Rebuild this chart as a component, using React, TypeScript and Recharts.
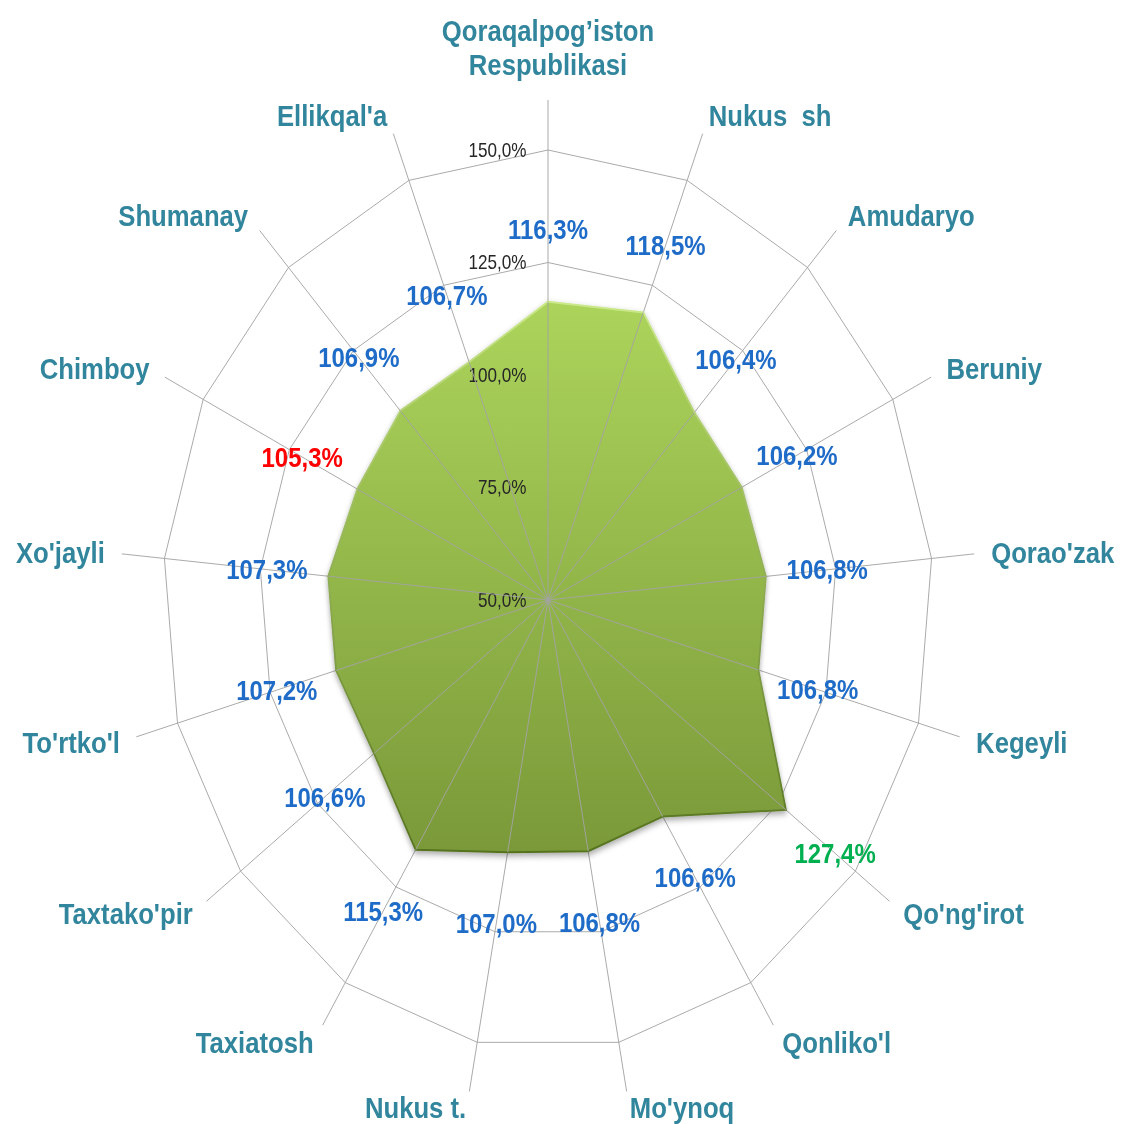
import React from 'react';
import { RadarChart, PolarGrid, PolarAngleAxis, PolarRadiusAxis, Radar } from 'recharts';

// districts, clockwise from the top
const districts = [
  'Qoraqalpog’iston\nRespublikasi',
  'Nukus  sh',
  'Amudaryo',
  'Beruniy',
  "Qorao'zak",
  'Kegeyli',
  "Qo'ng'irot",
  "Qonliko'l",
  "Mo'ynoq",
  'Nukus t.',
  'Taxiatosh',
  "Taxtako'pir",
  "To'rtko'l",
  "Xo'jayli",
  'Chimboy',
  'Shumanay',
  "Ellikqal'a",
];

const growthPct = [116.3, 118.5, 106.4, 106.2, 106.8, 106.8, 127.4, 106.6, 106.8, 107.0, 115.3, 106.6, 107.2, 107.3, 105.3, 106.9, 106.7];

const radiusTicks = [50, 75, 100, 125, 150];

// the source picture is squeezed horizontally, so the whole chart is drawn round and then scaled in x
const SQUEEZE = 0.856;
const CHART_W = Math.round(1122 / SQUEEZE);
const CHART_H = 1124;
const CX = 548 / SQUEEZE;
const CY = 600;
const RING_R = 450; // radius of the 150% ring
const SPOKE_R = 500; // spokes run a bit past the outer ring

const minTick = radiusTicks[0];
const maxTick = radiusTicks[radiusTicks.length - 1];
const domainMax = minTick + ((maxTick - minTick) * SPOKE_R) / RING_R;
const ringRadii = radiusTicks.slice(1).map(t => ((t - minTick) / (maxTick - minTick)) * RING_R);

const data = districts.map((name, i) => ({ name, value: growthPct[i] }));
const maxVal = Math.max(...growthPct);
const minVal = Math.min(...growthPct);

const FONT = '"Liberation Sans", Arial, sans-serif';
const GRID = '#a3a3a3';

const fmt = (v: number) => v.toFixed(1).replace('.', ',') + '%';

const labelColor = (v: number) => {
  if (v === maxVal) return '#00b050';
  if (v === minVal) return '#ff0000';
  return '#1f6cc8';
};

const CategoryTick = (props: any) => {
  const { payload } = props;
  const ox = typeof props.cx === 'number' ? props.cx : CX;
  const oy = typeof props.cy === 'number' ? props.cy : CY;
  const ang = (payload.coordinate * Math.PI) / 180;
  const r = SPOKE_R + 20;
  const x = ox + r * Math.cos(ang);
  let y = oy - r * Math.sin(ang);
  const c = Math.cos(ang);
  const anchor = Math.abs(c) < 0.05 ? 'middle' : c > 0 ? 'start' : 'end';
  const lines = String(payload.value).split('\n');
  const lineH = 34;
  if (Math.sin(ang) < -0.9) y -= 4; // bottom names sit a little higher
  let y0 = y - ((lines.length - 1) * lineH) / 2;
  if (anchor === 'middle' && Math.sin(ang) > 0) y0 = y - 16 - (lines.length - 1) * lineH;
  return (
    <text
      x={x}
      y={y0}
      textAnchor={anchor}
      dominantBaseline="central"
      fontFamily={FONT}
      fontSize={30}
      fontWeight="bold"
      fill="#31859c"
      style={{ whiteSpace: 'pre' }}
    >
      {lines.map((l, k) => (
        <tspan key={k} x={x} dy={k === 0 ? 0 : lineH}>
          {l}
        </tspan>
      ))}
    </text>
  );
};

const RadiusTick = (props: any) => {
  const { x, y, payload } = props;
  return (
    <text x={x - 25} y={y} textAnchor="end" dominantBaseline="central" fontFamily={FONT} fontSize={20} fill="#262626">
      {fmt(payload.value)}
    </text>
  );
};

// spoke over the filled area plus the value label, placed outward from each vertex
const ValueLabel = (props: any) => {
  const { cx: px, cy: py, payload } = props;
  const ox = payload && typeof payload.cx === 'number' ? payload.cx : CX;
  const oy = payload && typeof payload.cy === 'number' ? payload.cy : CY;
  const dx = px - ox;
  const dy = py - oy;
  const r = Math.hypot(dx, dy) || 1;
  const k = (r + 72) / r;
  const v = payload.value;
  return (
    <g>
      <line x1={ox} y1={oy} x2={px} y2={py} stroke={GRID} strokeWidth={1} />
      <text
        x={ox + dx * k}
        y={oy + dy * k}
        textAnchor="middle"
        dominantBaseline="central"
        fontFamily={FONT}
        fontSize={28}
        fontWeight="bold"
        fill={labelColor(v)}
      >
        {fmt(v)}
      </text>
    </g>
  );
};

const App: React.FC = () => {
  return (
    <div style={{ position: 'absolute', left: 0, top: 0, width: 1122, height: 1124, overflow: 'hidden', background: '#fff' }}>
      <svg width={0} height={0} style={{ position: 'absolute' }}>
        <defs>
          <linearGradient id="radarFill" x1="0" y1="0" x2="0" y2="1">
            <stop offset="0%" stopColor="#acd45b" />
            <stop offset="100%" stopColor="#7a9939" />
          </linearGradient>
          <linearGradient id="radarEdge" x1="0" y1="0" x2="0" y2="1">
            <stop offset="0%" stopColor="#cbe98b" />
            <stop offset="100%" stopColor="#55721f" />
          </linearGradient>
          <filter id="radarShadow" x="-10%" y="-10%" width="120%" height="125%">
            <feDropShadow dx="0" dy="3" stdDeviation="3" floodColor="#000" floodOpacity="0.35" />
          </filter>
        </defs>
      </svg>
      <div style={{ width: CHART_W, height: CHART_H, transform: `scaleX(${SQUEEZE})`, transformOrigin: '0 0' }}>
        <RadarChart
          width={CHART_W}
          height={CHART_H}
          cx={CX}
          cy={CY}
          outerRadius={SPOKE_R}
          startAngle={90}
          endAngle={-270}
          data={data}
          margin={{ top: 0, right: 0, bottom: 0, left: 0 }}
        >
          <PolarGrid gridType="polygon" polarRadius={ringRadii} stroke={GRID} strokeWidth={1} />
          <PolarAngleAxis dataKey="name" axisLine={false} tickLine={false} tick={<CategoryTick />} />
          <PolarRadiusAxis
            angle={90}
            type="number"
            domain={[minTick, domainMax]}
            ticks={radiusTicks}
            axisLine={false}
            tickLine={false}
            tick={<RadiusTick />}
          />
          <Radar
            dataKey="value"
            fill="url(#radarFill)"
            fillOpacity={1}
            stroke="url(#radarEdge)"
            strokeWidth={2}
            filter="url(#radarShadow)"
            dot={<ValueLabel />}
            isAnimationActive={false}
          />
        </RadarChart>
      </div>
    </div>
  );
};

export default App;
